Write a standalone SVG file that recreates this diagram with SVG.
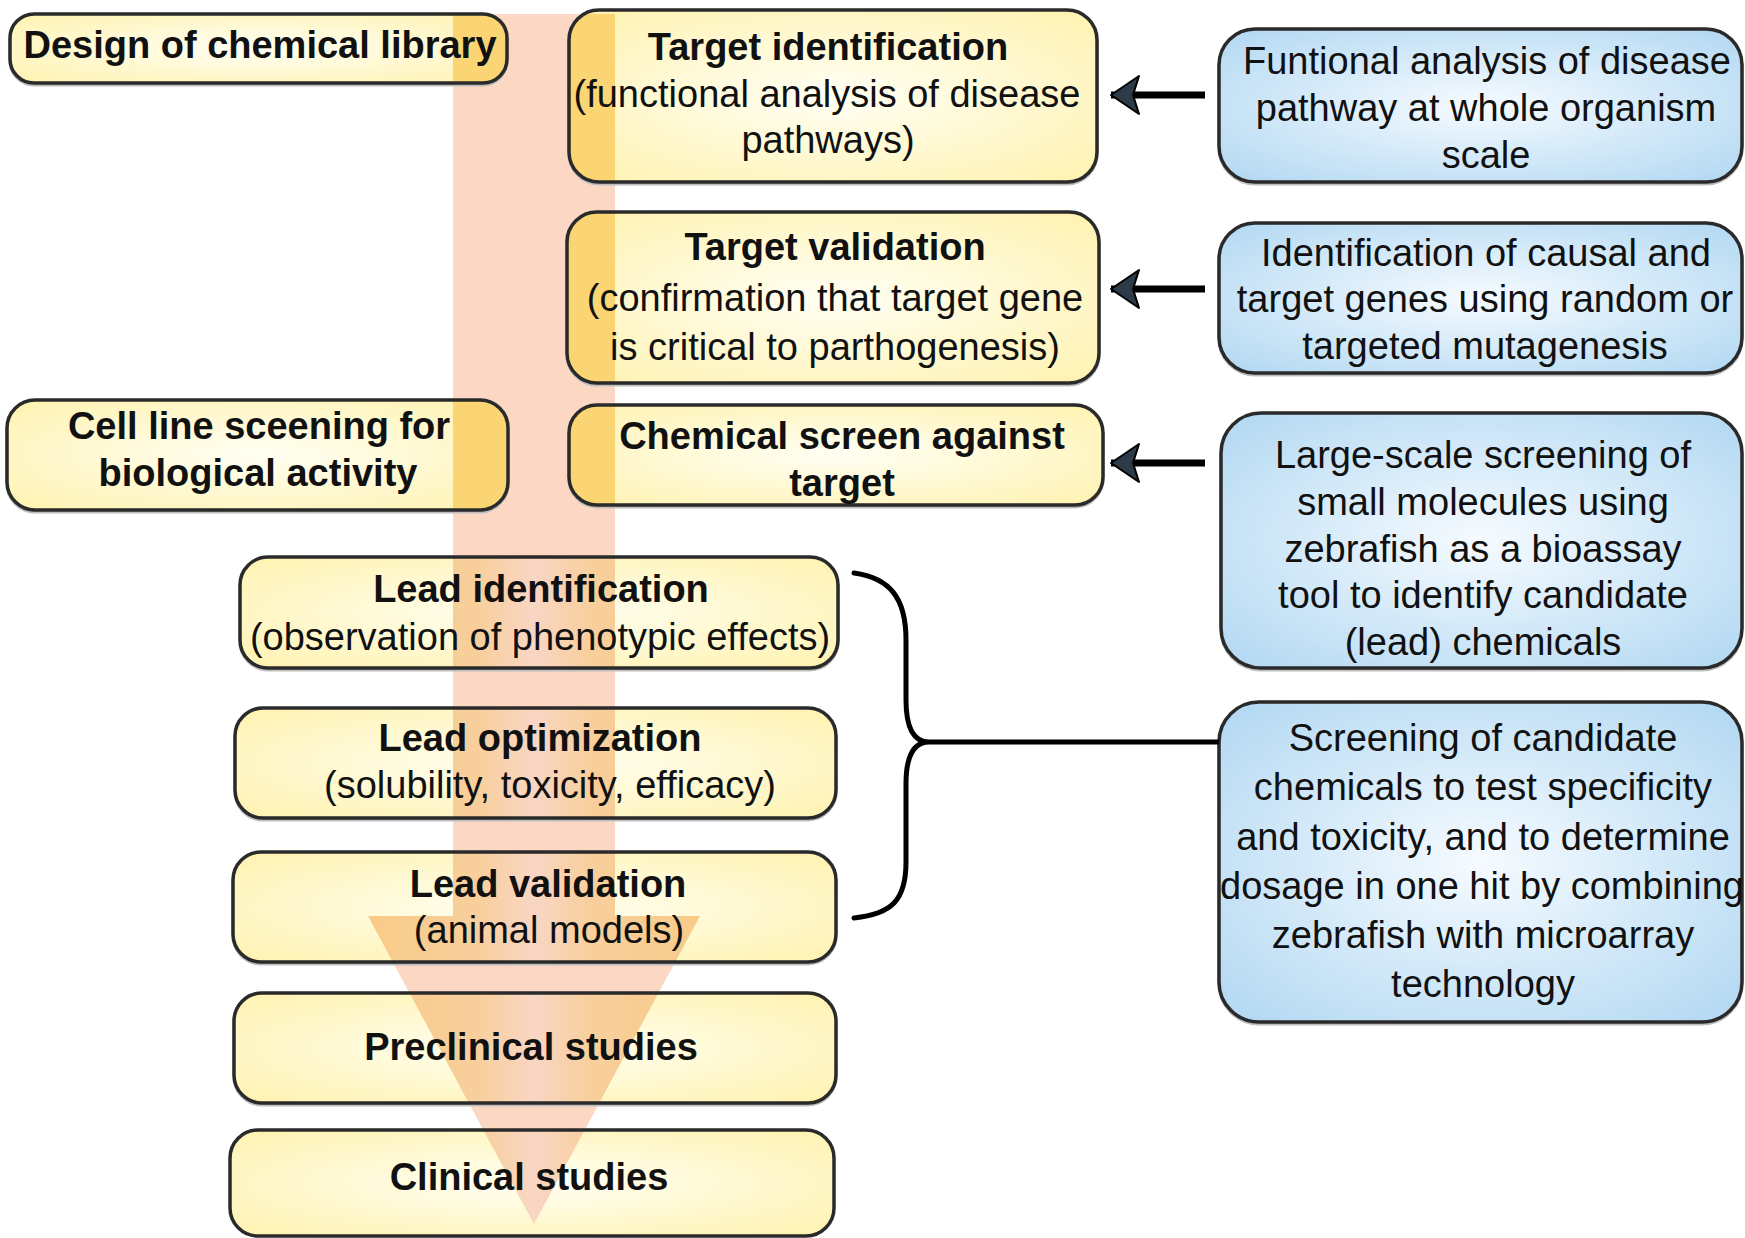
<svg xmlns="http://www.w3.org/2000/svg" width="1745" height="1238" viewBox="0 0 1745 1238">
<defs>
<style>
.t{font-family:"Liberation Sans",Arial,Helvetica,sans-serif;font-size:38px;fill:#111;text-anchor:middle}
.b{font-weight:bold}
.fy{fill:url(#gy)}
.fb{fill:url(#gb)}
.ovT{fill:#FBD574}
.ovL{fill:url(#gl)}
.st{fill:none;stroke:#2a2a2a;stroke-width:3.5}
.sh{fill:none;stroke:#bdbdbd;stroke-width:3}
.con{fill:none;stroke:#000;stroke-width:7}
.brace{fill:none;stroke:#000;stroke-width:5;stroke-linecap:round}
</style>
<radialGradient id="gy" cx="50%" cy="50%" r="65%">
<stop offset="0" stop-color="#FFFFF4"/>
<stop offset="1" stop-color="#FFF3B4"/>
</radialGradient>
<radialGradient id="gb" cx="50%" cy="50%" r="65%">
<stop offset="0" stop-color="#F6FBFF"/>
<stop offset="1" stop-color="#B6DAF3"/>
</radialGradient>
<linearGradient id="gl" gradientUnits="userSpaceOnUse" x1="368" y1="0" x2="700" y2="0">
<stop offset="0" stop-color="#F8CB88"/>
<stop offset="0.33" stop-color="#F8CF9C"/>
<stop offset="0.5" stop-color="#F9D6C4"/>
<stop offset="0.67" stop-color="#F8CF9C"/>
<stop offset="1" stop-color="#F8CB88"/>
</linearGradient>
<clipPath id="arrowClip">
<polygon points="453,14 615,14 615,916 700,916 534,1224 368,916 453,916"/>
</clipPath>
<marker id="ah" markerUnits="userSpaceOnUse" markerWidth="32" markerHeight="42" refX="30" refY="21" orient="auto">
<path d="M30,21 L2,2 L8,21 L2,40 Z" fill="#2d3a48" stroke="#000" stroke-width="2" stroke-linejoin="round"/>
</marker>
</defs>
<rect width="1745" height="1238" fill="#fff"/>

<g id="flow-arrow">
<polygon points="453,14 615,14 615,916 700,916 534,1224 368,916 453,916" fill="#FCD8C4"/>
</g>

<g id="design">
<rect class="sh" x="10" y="16" width="497" height="69" rx="24"/>
<rect class="fy" x="10" y="14" width="497" height="69" rx="24"/>
<rect class="ovT" x="10" y="14" width="497" height="69" rx="24" clip-path="url(#arrowClip)"/>
<rect class="st" x="10" y="14" width="497" height="69" rx="24"/>
<text class="t b" x="260" y="58">Design of chemical library</text>
</g>

<g id="target-identification">
<rect class="sh" x="569" y="12" width="528" height="172" rx="30"/>
<rect class="fy" x="569" y="10" width="528" height="172" rx="30"/>
<rect class="ovT" x="569" y="10" width="528" height="172" rx="30" clip-path="url(#arrowClip)"/>
<rect class="st" x="569" y="10" width="528" height="172" rx="30"/>
<text class="t b" x="828" y="60">Target identification</text>
<text class="t" x="827" y="107">(functional analysis of disease</text>
<text class="t" x="828" y="153">pathways)</text>
</g>

<g id="target-validation">
<rect class="sh" x="567" y="214" width="532" height="171" rx="30"/>
<rect class="fy" x="567" y="212" width="532" height="171" rx="30"/>
<rect class="ovT" x="567" y="212" width="532" height="171" rx="30" clip-path="url(#arrowClip)"/>
<rect class="st" x="567" y="212" width="532" height="171" rx="30"/>
<text class="t b" x="835" y="260">Target validation</text>
<text class="t" x="835" y="311">(confirmation that target gene</text>
<text class="t" x="835" y="360">is critical to parthogenesis)</text>
</g>

<g id="chemical-screen">
<rect class="sh" x="569" y="407" width="534" height="100" rx="28"/>
<rect class="fy" x="569" y="405" width="534" height="100" rx="28"/>
<rect class="ovT" x="569" y="405" width="534" height="100" rx="28" clip-path="url(#arrowClip)"/>
<rect class="st" x="569" y="405" width="534" height="100" rx="28"/>
<text class="t b" x="842" y="449">Chemical screen against</text>
<text class="t b" x="842" y="496">target</text>
</g>

<g id="cell-line">
<rect class="sh" x="7" y="402" width="501" height="110" rx="28"/>
<rect class="fy" x="7" y="400" width="501" height="110" rx="28"/>
<rect class="ovT" x="7" y="400" width="501" height="110" rx="28" clip-path="url(#arrowClip)"/>
<rect class="st" x="7" y="400" width="501" height="110" rx="28"/>
<text class="t b" x="259" y="439">Cell line sceening for</text>
<text class="t b" x="258" y="486">biological activity</text>
</g>

<g id="lead-identification">
<rect class="sh" x="240" y="559" width="598" height="111" rx="28"/>
<rect class="fy" x="240" y="557" width="598" height="111" rx="28"/>
<rect class="ovL" x="240" y="557" width="598" height="111" rx="28" clip-path="url(#arrowClip)"/>
<rect class="st" x="240" y="557" width="598" height="111" rx="28"/>
<text class="t b" x="541" y="602">Lead identification</text>
<text class="t" x="540" y="650">(observation of phenotypic effects)</text>
</g>

<g id="lead-optimization">
<rect class="sh" x="235" y="710" width="601" height="110" rx="28"/>
<rect class="fy" x="235" y="708" width="601" height="110" rx="28"/>
<rect class="ovL" x="235" y="708" width="601" height="110" rx="28" clip-path="url(#arrowClip)"/>
<rect class="st" x="235" y="708" width="601" height="110" rx="28"/>
<text class="t b" x="540" y="751">Lead optimization</text>
<text class="t" x="550" y="798">(solubility, toxicity, efficacy)</text>
</g>

<g id="lead-validation">
<rect class="sh" x="233" y="854" width="603" height="110" rx="28"/>
<rect class="fy" x="233" y="852" width="603" height="110" rx="28"/>
<rect class="ovL" x="233" y="852" width="603" height="110" rx="28" clip-path="url(#arrowClip)"/>
<rect class="st" x="233" y="852" width="603" height="110" rx="28"/>
<text class="t b" x="548" y="897">Lead validation</text>
<text class="t" x="549" y="943">(animal models)</text>
</g>

<g id="preclinical">
<rect class="sh" x="234" y="995" width="602" height="110" rx="28"/>
<rect class="fy" x="234" y="993" width="602" height="110" rx="28"/>
<rect class="ovL" x="234" y="993" width="602" height="110" rx="28" clip-path="url(#arrowClip)"/>
<rect class="st" x="234" y="993" width="602" height="110" rx="28"/>
<text class="t b" x="531" y="1060">Preclinical studies</text>
</g>

<g id="clinical">
<rect class="fy" x="230" y="1130" width="604" height="106" rx="28"/>
<rect class="ovL" x="230" y="1130" width="604" height="106" rx="28" clip-path="url(#arrowClip)"/>
<rect class="st" x="230" y="1130" width="604" height="106" rx="28"/>
<text class="t b" x="529" y="1190">Clinical studies</text>
</g>

<g id="zebrafish-pathway">
<rect class="sh" x="1219" y="31" width="523" height="153" rx="36"/>
<rect class="fb" x="1219" y="29" width="523" height="153" rx="36"/>
<rect class="st" x="1219" y="29" width="523" height="153" rx="36"/>
<text class="t" x="1487" y="74">Funtional analysis of disease</text>
<text class="t" x="1486" y="121">pathway at whole organism</text>
<text class="t" x="1486" y="168">scale</text>
</g>

<g id="zebrafish-mutagenesis">
<rect class="sh" x="1219" y="225" width="523" height="150" rx="36"/>
<rect class="fb" x="1219" y="223" width="523" height="150" rx="36"/>
<rect class="st" x="1219" y="223" width="523" height="150" rx="36"/>
<text class="t" x="1486" y="266">Identification of causal and</text>
<text class="t" x="1485" y="312">target genes using random or</text>
<text class="t" x="1485" y="359">targeted mutagenesis</text>
</g>

<g id="zebrafish-screening">
<rect class="sh" x="1221" y="415" width="521" height="255" rx="40"/>
<rect class="fb" x="1221" y="413" width="521" height="255" rx="40"/>
<rect class="st" x="1221" y="413" width="521" height="255" rx="40"/>
<text class="t" x="1483" y="468">Large-scale screening of</text>
<text class="t" x="1483" y="515">small molecules using</text>
<text class="t" x="1483" y="562">zebrafish as a bioassay</text>
<text class="t" x="1483" y="608">tool to identify candidate</text>
<text class="t" x="1483" y="655">(lead) chemicals</text>
</g>

<g id="zebrafish-microarray">
<rect class="sh" x="1219" y="704" width="523" height="320" rx="40"/>
<rect class="fb" x="1219" y="702" width="523" height="320" rx="40"/>
<rect class="st" x="1219" y="702" width="523" height="320" rx="40"/>
<text class="t" x="1483" y="751">Screening of candidate</text>
<text class="t" x="1483" y="800">chemicals to test specificity</text>
<text class="t" x="1483" y="850">and toxicity, and to determine</text>
<text class="t" x="1482" y="899">dosage in one hit by combining</text>
<text class="t" x="1483" y="948">zebrafish with microarray</text>
<text class="t" x="1483" y="997">technology</text>
</g>

<g id="connectors">
<line class="con" x1="1205" y1="95" x2="1111" y2="95" marker-end="url(#ah)"/>
<line class="con" x1="1205" y1="289" x2="1111" y2="289" marker-end="url(#ah)"/>
<line class="con" x1="1205" y1="463" x2="1111" y2="463" marker-end="url(#ah)"/>
<path class="brace" d="M854,573 C890,578 906,598 906,640 L906,700 C906,728 914,742 929,742 C914,742 906,756 906,784 L906,862 C906,900 892,914 854,918"/>
<line x1="929" y1="742" x2="1219" y2="742" stroke="#000" stroke-width="5"/>
</g>
</svg>
